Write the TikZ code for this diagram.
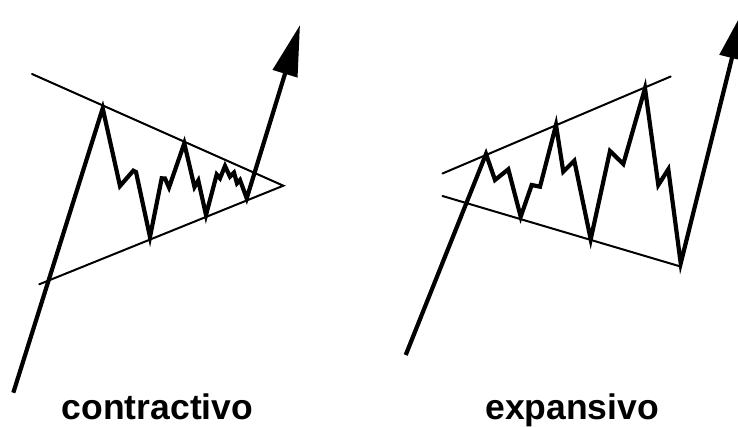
\documentclass[tikz,border=0pt]{standalone}
\usepackage{fontspec}
\setmainfont{Liberation Sans}
\usetikzlibrary{arrows.meta}
\begin{document}
\begin{tikzpicture}[x=1pt,y=-1pt,
  trend/.style={line width=2pt,line cap=round},
  price/.style={line width=4.2pt,line join=miter,miter limit=6,-{Triangle[length=51pt,width=25pt]}},
  label/.style={font=\fontsize{35.5}{40}\selectfont\bfseries,anchor=base}]
\useasboundingbox (0,0) rectangle (738,427);
\clip (0,0) rectangle (738,427);
% contractivo
\coordinate (cu) at (32,74);
\coordinate (cl) at (39.3,284.3);
\coordinate (capex) at (283.3,185.7);
\draw[trend] (cu) -- (capex) -- (cl);
\coordinate (cs) at (13.3,392.7);
\coordinate (ct) at (300,25);
\draw[price] (cs) -- (102.7,108.3) -- (120,186) -- (133.3,170.7) -- (136,172)
  -- (150,237) -- (161.7,178.3) -- (165,178.5) -- (169,187.5) -- (184.3,143.3)
  -- (194.5,187) -- (198.3,180.5) -- (206,215) -- (216.7,174.5) -- (220,178.3)
  -- (225,166) -- (230,176.7) -- (234,172.7) -- (237,183.3) -- (240,180)
  -- (246.7,198.3) -- (ct);
\node[label] (lc) at (157.5,419.3) {contractivo};
% expansivo
\coordinate (eu1) at (442.5,173.5);
\coordinate (eu2) at (670.7,76.5);
\coordinate (el1) at (442.5,196);
\coordinate (el2) at (680.5,266.5);
\draw[trend] (eu1) -- (eu2);
\draw[trend] (el1) -- (el2);
\coordinate (es) at (405.7,355);
\coordinate (et) at (744.3,8.5);
\draw[price] (es) -- (486,154) -- (495,180) -- (508.3,169.3) -- (520.7,216.7)
  -- (531.7,185) -- (540,186.7) -- (556,125) -- (563.3,171.7) -- (574.3,160.7)
  -- (590.7,239.3) -- (610,151) -- (623.3,164) -- (645,88.3) -- (658.3,185)
  -- (668.3,169.3) -- (680.7,263.3) -- (et);
\node[label] (le) at (572.2,419.3) {expansivo};
\end{tikzpicture}
\end{document}
